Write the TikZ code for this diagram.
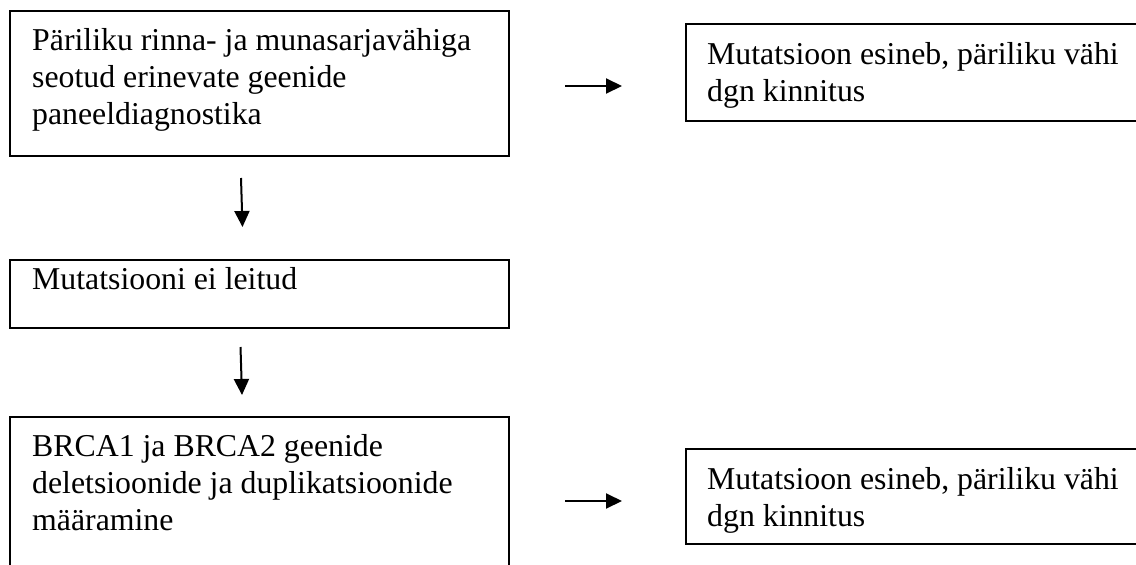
\documentclass[tikz,border=0pt]{standalone}
\usepackage{fontspec}
\setmainfont{Liberation Serif}
\usetikzlibrary{arrows.meta}
\begin{document}
\begin{tikzpicture}[x=1pt,y=-1pt,
  box/.style={draw, line width=2pt, rectangle, inner sep=0pt, anchor=north west},
  txt/.style={anchor=base west, inner sep=0pt, align=left, font=\fontsize{31.8}{37}\selectfont},
  flow/.style={line width=2pt, -{Triangle[length=16pt,width=15pt]}}]
\useasboundingbox (0,0) rectangle (1136,565);
\clip (0,0) rectangle (1136,565);
% boxes
\node[box, minimum width=499pt, minimum height=145pt] (b1) at (9,10) {};
\node[box, minimum width=499pt, minimum height=68pt] (b2) at (9,259) {};
\node[box, minimum width=499pt, minimum height=200pt] (b3) at (9,416) {};
\node[box, minimum width=500pt, minimum height=97pt] (r1) at (685,23) {};
\node[box, minimum width=500pt, minimum height=95pt] (r2) at (685,448) {};
% texts (base anchor = baseline of the last line)
\node[txt] (t1) at (32,124) {Päriliku rinna- ja munasarjavähiga\\seotud erinevate geenide\\paneeldiagnostika};
\node[txt] (t2) at (32,289) {Mutatsiooni ei leitud};
\node[txt] (t3) at (32,530) {BRCA1 ja BRCA2 geenide\\deletsioonide ja duplikatsioonide\\määramine};
\node[txt] (tr1) at (707,101) {Mutatsioon esineb, päriliku vähi\\dgn kinnitus};
\node[txt] (tr2) at (707,526) {Mutatsioon esineb, päriliku vähi\\dgn kinnitus};
% arrows
\coordinate (a1s) at (565,86);
\coordinate (a1e) at (622,86);
\coordinate (d1s) at (241,178);
\coordinate (d1e) at (242.5,227);
\coordinate (d2s) at (240.5,347);
\coordinate (d2e) at (242,395);
\coordinate (a2s) at (565,501);
\coordinate (a2e) at (622,501);
\draw[flow] (a1s) -- (a1e);
\draw[flow] (d1s) -- (d1e);
\draw[flow] (d2s) -- (d2e);
\draw[flow] (a2s) -- (a2e);
\end{tikzpicture}
\end{document}
